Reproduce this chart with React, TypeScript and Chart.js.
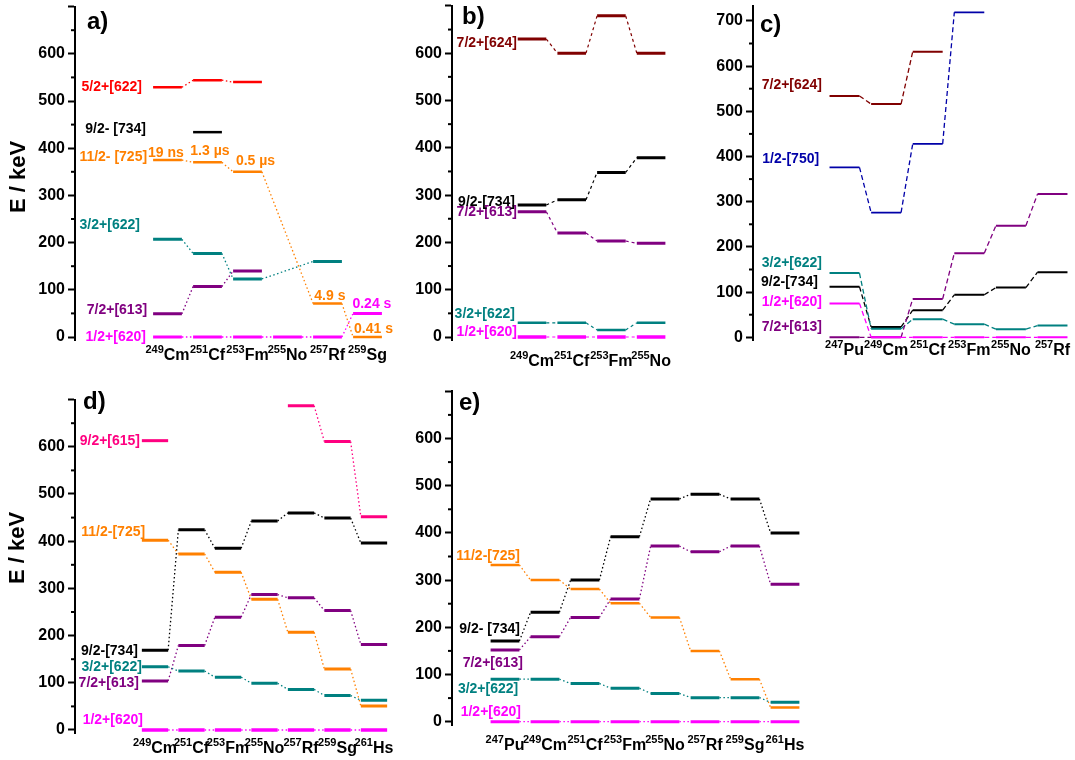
import React, { useEffect, useRef } from 'react';
import { Chart, registerables } from 'chart.js';
Chart.register(...registerables);

const FONT = '"Liberation Sans", Arial, Helvetica, sans-serif';
const RED = '#ff0000', BLACK = '#000000', ORANGE = '#ff8000', TEAL = '#008080', PURPLE = '#800080';
const MAGENTA = '#ff00ff', DARKRED = '#800000', BLUE = '#0000a8', PINK = '#ff0080';

// ---------- panel a ----------
const massA = ['249', '251', '253', '255', '257', '259'];
const elemA = ['Cm', 'Cf', 'Fm', 'No', 'Rf', 'Sg'];
const a52_622 = [529, 544, 540, null, null, null];
const a92_734 = [null, 434, null, null, null, null];
const a112_725 = [375, 370, 350, null, 71, 0];
const a32_622 = [207, 177, 123, null, 160, null];
const a72_613 = [49, 107, 140, null, null, null];
const a12_620 = [0, 0, 0, 0, 0, 50];
const halfLivesA = ['19 ns', '1.3 µs', '0.5 µs', '4.9 s', '0.24 s', '0.41 s'];

// ---------- panel b ----------
const massB = ['249', '251', '253', '255'];
const elemB = ['Cm', 'Cf', 'Fm', 'No'];
const b72_624 = [630, 600, 679, 600];
const b92_734 = [279, 290, 348, 379];
const b72_613 = [265, 220, 203, 198];
const b32_622 = [30, 30, 15, 30];
const b12_620 = [0, 0, 0, 0];

// ---------- panel c ----------
const massC = ['247', '249', '251', '253', '255', '257'];
const elemC = ['Pu', 'Cm', 'Cf', 'Fm', 'No', 'Rf'];
const c72_624 = [534, 516, 632, null, null, null];
const c12_750 = [376, 276, 428, 719, null, null];
const c32_622 = [142, 19, 40, 29, 18, 26];
const c92_734 = [112, 23, 60, 94, 110, 144];
const c12_620 = [75, 0, 0, 0, 0, 0];
const c72_613 = [0, 0, 85, 186, 247, 317];

// ---------- panel d ----------
const massD = ['249', '251', '253', '255', '257', '259', '261'];
const elemD = ['Cm', 'Cf', 'Fm', 'No', 'Rf', 'Sg', 'Hs'];
const d92_615a = [613, null, null, null, null, null, null];
const d92_615b = [null, null, null, null, 687, 611, 452];
const d92_734 = [169, 424, 385, 443, 460, 449, 396];
const d112_725 = [402, 373, 334, 277, 207, 129, 51];
const d72_613 = [104, 179, 239, 287, 280, 253, 181];
const d32_622 = [134, 125, 112, 99, 86, 73, 63];
const d12_620 = [0, 0, 0, 0, 0, 0, 0];

// ---------- panel e ----------
const massE = ['247', '249', '251', '253', '255', '257', '259', '261'];
const elemE = ['Pu', 'Cm', 'Cf', 'Fm', 'No', 'Rf', 'Sg', 'Hs'];
const e92_734 = [171, 232, 300, 392, 472, 482, 472, 400];
const e72_613 = [152, 180, 221, 260, 372, 360, 372, 291];
const e112_725 = [332, 300, 281, 251, 221, 150, 90, 30];
const e32_622 = [90, 90, 81, 71, 60, 51, 51, 41];
const e12_620 = [0, 0, 0, 0, 0, 0, 0, 0];

// y tick values (labelled) and minor ticks
const majorTicks = [0, 100, 200, 300, 400, 500, 600, 700];
const minorTicks = [50, 150, 250, 350, 450, 550, 650];

type Series = { values: (number | null)[]; color: string; width: number; label?: string; lx?: number; le?: number };
type Note = { text: string; color: string; x: number; e: number };
type PanelCfg = {
  left: number; width: number;
  axisX: number; y0: number; k: number; ymax: number; showTop: boolean;
  c0: number; spacing: number; nucBase: number;
  masses: string[]; elems: string[];
  series: Series[]; notes?: Note[];
  dash: number[]; dashW: number;
  tag: string; tagX: number; tagY: number;
  title?: { x: number; y: number };
};

const H = 0.36;
const YEXT = 8;

const panels: PanelCfg[] = [
  {
    left: 0, width: 400, axisX: 75, y0: 337, k: 0.472, ymax: 700, showTop: false, c0: 167.5, spacing: 40, nucBase: 23,
    masses: massA, elems: elemA, dash: [1.5, 2.5], dashW: 1.3, tag: 'a)', tagX: 87, tagY: 29,
    title: { x: 19, y: 177 },
    series: [
      { values: a12_620, color: MAGENTA, width: 3, label: '1/2+[620]', lx: -0.54, le: 0 },
      { values: a72_613, color: PURPLE, width: 3, label: '7/2+[613]', lx: -0.51, le: 57 },
      { values: a32_622, color: TEAL, width: 3, label: '3/2+[622]', lx: -0.69, le: 237 },
      { values: a112_725, color: ORANGE, width: 2.5, label: '11/2- [725]', lx: -0.51, le: 381 },
      { values: a92_734, color: BLACK, width: 2.5, label: '9/2- [734]', lx: -0.54, le: 440 },
      { values: a52_622, color: RED, width: 2.5, label: '5/2+[622]', lx: -0.64, le: 530 },
    ],
    notes: [
      { text: halfLivesA[0], color: ORANGE, x: -0.04, e: 381 },
      { text: halfLivesA[1], color: ORANGE, x: 1.06, e: 386 },
      { text: halfLivesA[2], color: ORANGE, x: 2.2, e: 364 },
      { text: halfLivesA[3], color: ORANGE, x: 4.06, e: 78 },
      { text: halfLivesA[4], color: MAGENTA, x: 5.11, e: 61 },
      { text: halfLivesA[5], color: ORANGE, x: 5.15, e: 8 },
    ],
  },
  {
    left: 400, width: 300, axisX: 452, y0: 337, k: 0.473, ymax: 700, showTop: false, c0: 532, spacing: 39.7, nucBase: 29,
    masses: massB, elems: elemB, dash: [3, 3], dashW: 1.2, tag: 'b)', tagX: 462, tagY: 24,
    series: [
      { values: b12_620, color: MAGENTA, width: 3.5, label: '1/2+[620]', lx: -0.38, le: 10 },
      { values: b32_622, color: TEAL, width: 2.5, label: '3/2+[622]', lx: -0.43, le: 48 },
      { values: b72_613, color: PURPLE, width: 3, label: '7/2+[613]', lx: -0.38, le: 263 },
      { values: b92_734, color: BLACK, width: 3, label: '9/2-[734]', lx: -0.43, le: 286 },
      { values: b72_624, color: DARKRED, width: 3, label: '7/2+[624]', lx: -0.38, le: 621 },
    ],
  },
  {
    left: 700, width: 375, axisX: 753, y0: 337.3, k: 0.452, ymax: 733, showTop: true, c0: 844.5, spacing: 41.6, nucBase: 18,
    masses: massC, elems: elemC, dash: [5, 3], dashW: 1.3, tag: 'c)', tagX: 760, tagY: 32,
    series: [
      { values: c12_620, color: MAGENTA, width: 2, label: '1/2+[620]', lx: -0.54, le: 77 },
      { values: c72_613, color: PURPLE, width: 2, label: '7/2+[613]', lx: -0.54, le: 22 },
      { values: c32_622, color: TEAL, width: 2, label: '3/2+[622]', lx: -0.54, le: 164 },
      { values: c92_734, color: BLACK, width: 2, label: '9/2-[734]', lx: -0.64, le: 121 },
      { values: c12_750, color: BLUE, width: 1.8, label: '1/2-[750]', lx: -0.61, le: 394 },
      { values: c72_624, color: DARKRED, width: 2, label: '7/2+[624]', lx: -0.54, le: 558 },
    ],
  },
  {
    left: 0, width: 410, axisX: 75, y0: 730, k: 0.472, ymax: 700, showTop: false, c0: 155, spacing: 36.5, nucBase: 23,
    masses: massD, elems: elemD, dash: [1.5, 2.5], dashW: 1.3, tag: 'd)', tagX: 83, tagY: 409,
    title: { x: 18, y: 548 },
    series: [
      { values: d12_620, color: MAGENTA, width: 3.5, label: '1/2+[620]', lx: -0.33, le: 21 },
      { values: d32_622, color: TEAL, width: 3, label: '3/2+[622]', lx: -0.36, le: 134 },
      { values: d72_613, color: PURPLE, width: 3, label: '7/2+[613]', lx: -0.44, le: 100 },
      { values: d112_725, color: ORANGE, width: 3, label: '11/2-[725]', lx: -0.27, le: 420 },
      { values: d92_734, color: BLACK, width: 3, label: '9/2-[734]', lx: -0.47, le: 168 },
      { values: d92_615a, color: PINK, width: 3, label: '9/2+[615]', lx: -0.41, le: 613 },
      { values: d92_615b, color: PINK, width: 3 },
    ],
  },
  {
    left: 410, width: 420, axisX: 452, y0: 721.7, k: 0.472, ymax: 700, showTop: false, c0: 505, spacing: 40, nucBase: 28,
    masses: massE, elems: elemE, dash: [1.5, 2.5], dashW: 1.3, tag: 'e)', tagX: 459, tagY: 410,
    series: [
      { values: e12_620, color: MAGENTA, width: 3, label: '1/2+[620]', lx: 0.4, le: 21 },
      { values: e32_622, color: TEAL, width: 3, label: '3/2+[622]', lx: 0.33, le: 70 },
      { values: e112_725, color: ORANGE, width: 2.5, label: '11/2-[725]', lx: 0.375, le: 351 },
      { values: e72_613, color: PURPLE, width: 3, label: '7/2+[613]', lx: 0.45, le: 125 },
      { values: e92_734, color: BLACK, width: 3, label: '9/2- [734]', lx: 0.375, le: 197 },
    ],
  },
];

function geometry(p: PanelCfg) {
  const top = Math.floor(p.y0 - p.ymax * p.k - 20);
  const height = Math.ceil(p.y0 + 45 - top);
  return { top, height };
}

function buildChart(canvas: HTMLCanvasElement, p: PanelCfg) {
  const { top, height } = geometry(p);
  const L = p.axisX - p.left;
  const T = p.y0 - p.ymax * p.k - top;
  const B = p.y0 + YEXT * p.k - top;
  const R = p.width - 4;
  const xmin = (p.axisX - p.c0) / p.spacing;
  const xmax = xmin + (R - L) / p.spacing;

  const datasets: any[] = [];
  p.series.forEach((s) => {
    const lv: any[] = [];
    const cn: any[] = [];
    let prev = -1;
    s.values.forEach((v, i) => {
      if (v === null) return;
      lv.push({ x: i - H, y: v }, { x: i + H, y: v }, { x: i + 0.5, y: null });
      if (prev >= 0) cn.push({ x: prev + H, y: s.values[prev] }, { x: i - H, y: v }, { x: i, y: null });
      prev = i;
    });
    datasets.push({
      data: cn, borderColor: s.color, borderWidth: p.dashW, borderDash: p.dash,
      pointRadius: 0, spanGaps: false, clip: false, fill: false,
    });
    datasets.push({
      data: lv, borderColor: s.color, borderWidth: s.width, borderCapStyle: 'butt',
      pointRadius: 0, spanGaps: false, clip: false, fill: false,
    });
  });

  const deco = {
    id: 'deco',
    afterDraw(chart: any) {
      const ctx = chart.ctx;
      const xs = chart.scales.x;
      const ys = chart.scales.y;
      const px = (v: number) => xs.getPixelForValue(v);
      const py = (e: number) => ys.getPixelForValue(e);
      ctx.save();
      // minor ticks
      ctx.strokeStyle = '#000';
      ctx.lineWidth = 2;
      minorTicks.forEach((v) => {
        if (v > p.ymax) return;
        const y = py(v);
        ctx.beginPath();
        ctx.moveTo(L - 4, y);
        ctx.lineTo(L, y);
        ctx.stroke();
      });
      // level labels
      ctx.font = `bold 14px ${FONT}`;
      ctx.textAlign = 'right';
      ctx.textBaseline = 'middle';
      p.series.forEach((s) => {
        if (s.label) {
          ctx.fillStyle = s.color;
          ctx.fillText(s.label, px(s.lx as number), py(s.le as number));
        }
      });
      // notes
      ctx.textAlign = 'center';
      ctx.textBaseline = 'alphabetic';
      (p.notes || []).forEach((n) => {
        ctx.fillStyle = n.color;
        ctx.fillText(n.text, px(n.x), py(n.e));
      });
      // nuclei
      ctx.fillStyle = '#000';
      ctx.textAlign = 'left';
      const base = py(0) + p.nucBase;
      p.elems.forEach((el, i) => {
        ctx.font = `bold 11px ${FONT}`;
        const wm = ctx.measureText(p.masses[i]).width;
        ctx.font = `bold 16px ${FONT}`;
        const we = ctx.measureText(el).width;
        const x0 = px(i) - (wm + we) / 2;
        ctx.font = `bold 11px ${FONT}`;
        ctx.fillText(p.masses[i], x0, base - 7);
        ctx.font = `bold 16px ${FONT}`;
        ctx.fillText(el, x0 + wm, base);
      });
      // panel tag
      ctx.font = `bold 24px ${FONT}`;
      ctx.fillText(p.tag, p.tagX - p.left, p.tagY - top);
      // y title
      if (p.title) {
        ctx.translate(p.title.x - p.left, p.title.y - top);
        ctx.rotate(-Math.PI / 2);
        ctx.textAlign = 'center';
        ctx.textBaseline = 'middle';
        ctx.font = `bold 22px ${FONT}`;
        ctx.fillText('E / keV', 0, 0);
      }
      ctx.restore();
    },
  };

  return new Chart(canvas, {
    type: 'line',
    data: { datasets },
    options: {
      responsive: false,
      animation: false,
      events: [],
      layout: { padding: { left: 0, top: T, right: p.width - R, bottom: height - B } },
      plugins: { legend: { display: false }, tooltip: { enabled: false } },
      scales: {
        x: { type: 'linear', display: false, min: xmin, max: xmax },
        y: {
          type: 'linear',
          min: -YEXT,
          max: p.ymax,
          border: { display: true, color: '#000', width: 2 },
          grid: {
            drawOnChartArea: false,
            drawTicks: true,
            tickLength: 7,
            tickWidth: 2,
            tickColor: '#000',
          },
          ticks: {
            autoSkip: false,
            padding: 3,
            color: '#000',
            font: { family: FONT, size: 16, weight: 'bold' },
            callback: (v: any) => (v < p.ymax || p.showTop ? String(v) : ''),
          },
          afterBuildTicks: (s: any) => {
            s.ticks = majorTicks.filter((v) => v <= p.ymax).map((v) => ({ value: v }));
          },
          afterFit: (s: any) => {
            s.width = L;
          },
        },
      },
    } as any,
    plugins: [deco],
  });
}

function Panel({ p }: { p: PanelCfg }) {
  const ref = useRef<HTMLCanvasElement | null>(null);
  const { top, height } = geometry(p);
  useEffect(() => {
    if (!ref.current) return;
    const ch = buildChart(ref.current, p);
    return () => ch.destroy();
  }, [p]);
  return (
    <canvas
      ref={ref}
      width={p.width}
      height={height}
      style={{ position: 'absolute', left: p.left, top, width: p.width, height }}
    />
  );
}

export default function App() {
  return (
    <div style={{ position: 'absolute', left: 0, top: 0, width: 1075, height: 760, background: '#fff', overflow: 'hidden' }}>
      {panels.map((p, i) => (
        <Panel key={i} p={p} />
      ))}
    </div>
  );
}
